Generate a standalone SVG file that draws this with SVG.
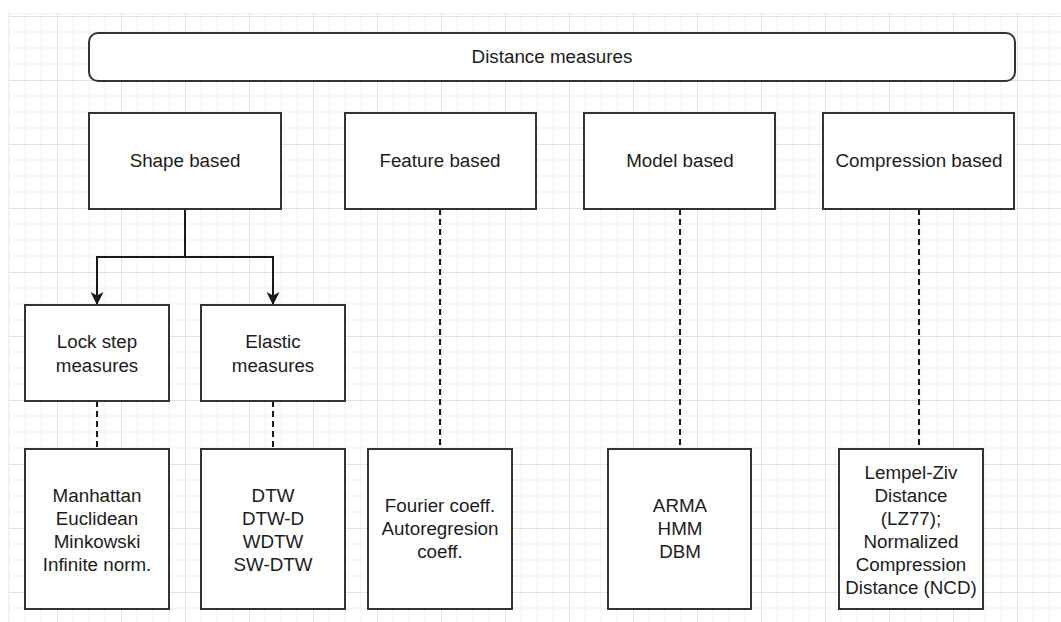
<svg xmlns="http://www.w3.org/2000/svg" width="1061" height="622" viewBox="0 0 1061 622">
  <style>
    .box { fill: #ffffff; stroke: #333333; stroke-width: 2; }
    .lbl { font-family: "Liberation Sans", Arial, sans-serif; font-size: 18.8px; fill: #1c1c1c; text-anchor: middle; }
    .solid { fill: none; stroke: #1a1a1a; stroke-width: 2; }
    .dash { fill: none; stroke: #1a1a1a; stroke-width: 2; stroke-dasharray: 6 4; }
  </style>
  <defs>
    <!-- background grid: minor lines every 16px, major every 64px -->
    <pattern id="grid" patternUnits="userSpaceOnUse" x="-7" y="16" width="64" height="64">
      <path d="M16 0V64M32 0V64M48 0V64M0 16H64M0 32H64M0 48H64" stroke="#efefef" stroke-width="1" fill="none"/>
      <path d="M0.5 0V64M0 0.5H64" stroke="#e3e3e3" stroke-width="1" fill="none"/>
    </pattern>
    <marker id="arrow" viewBox="0 0 13 13" refX="13" refY="6.5" markerWidth="13" markerHeight="13" markerUnits="userSpaceOnUse" orient="auto">
      <path d="M0,0 L13,6.5 L0,13 L3.5,6.5 Z" fill="#1a1a1a"/>
    </marker>
  </defs>

  <rect x="0" y="0" width="1061" height="622" fill="#ffffff"/>
  <rect x="8" y="13" width="1053" height="609" fill="url(#grid)"/>
  <path d="M8 13.5H1061M8.5 13V622" stroke="#efefef" stroke-width="1"/>

  <g id="connectors">
    <path class="solid" d="M185 209V257H97V305" marker-end="url(#arrow)"/>
    <path class="solid" d="M185 257H273V305" marker-end="url(#arrow)"/>
    <path class="dash" d="M97 401V449"/>
    <path class="dash" d="M273 401V449"/>
    <path class="dash" d="M440 209V449"/>
    <path class="dash" d="M680 209V449"/>
    <path class="dash" d="M919 209V449"/>
  </g>

  <g id="distance-measures">
    <rect class="box" x="89" y="33" width="926" height="48" rx="9"/>
    <text class="lbl" x="552" y="63">Distance measures</text>
  </g>

  <g id="shape-based">
    <rect class="box" x="89" y="113" width="192" height="96"/>
    <text class="lbl" x="185" y="167">Shape based</text>
  </g>
  <g id="feature-based">
    <rect class="box" x="345" y="113" width="191" height="96"/>
    <text class="lbl" x="440" y="167">Feature based</text>
  </g>
  <g id="model-based">
    <rect class="box" x="584" y="113" width="191" height="96"/>
    <text class="lbl" x="680" y="167">Model based</text>
  </g>
  <g id="compression-based">
    <rect class="box" x="823" y="113" width="191" height="96"/>
    <text class="lbl" x="919" y="167">Compression based</text>
  </g>

  <g id="lock-step">
    <rect class="box" x="25" y="305" width="144" height="96"/>
    <text class="lbl" x="97" y="348">Lock step</text>
    <text class="lbl" x="97" y="372">measures</text>
  </g>
  <g id="elastic">
    <rect class="box" x="201" y="305" width="144" height="96"/>
    <text class="lbl" x="273" y="348">Elastic</text>
    <text class="lbl" x="273" y="372">measures</text>
  </g>

  <g id="lock-step-list">
    <rect class="box" x="25" y="449" width="144" height="160"/>
    <text class="lbl" x="97" y="502">Manhattan</text>
    <text class="lbl" x="97" y="525">Euclidean</text>
    <text class="lbl" x="97" y="548">Minkowski</text>
    <text class="lbl" x="97" y="571">Infinite norm.</text>
  </g>
  <g id="elastic-list">
    <rect class="box" x="201" y="449" width="144" height="160"/>
    <text class="lbl" x="273" y="502">DTW</text>
    <text class="lbl" x="273" y="525">DTW-D</text>
    <text class="lbl" x="273" y="548">WDTW</text>
    <text class="lbl" x="273" y="571">SW-DTW</text>
  </g>
  <g id="feature-list">
    <rect class="box" x="368" y="449" width="144" height="160"/>
    <text class="lbl" x="440" y="512">Fourier coeff.</text>
    <text class="lbl" x="440" y="535">Autoregresion</text>
    <text class="lbl" x="440" y="558">coeff.</text>
  </g>
  <g id="model-list">
    <rect class="box" x="608" y="449" width="143" height="160"/>
    <text class="lbl" x="680" y="512">ARMA</text>
    <text class="lbl" x="680" y="535">HMM</text>
    <text class="lbl" x="680" y="558">DBM</text>
  </g>
  <g id="compression-list">
    <rect class="box" x="839" y="449" width="144" height="160"/>
    <text class="lbl" x="911" y="479">Lempel-Ziv</text>
    <text class="lbl" x="911" y="502">Distance</text>
    <text class="lbl" x="911" y="525">(LZ77);</text>
    <text class="lbl" x="911" y="548">Normalized</text>
    <text class="lbl" x="911" y="571">Compression</text>
    <text class="lbl" x="911" y="594">Distance (NCD)</text>
  </g>
</svg>
